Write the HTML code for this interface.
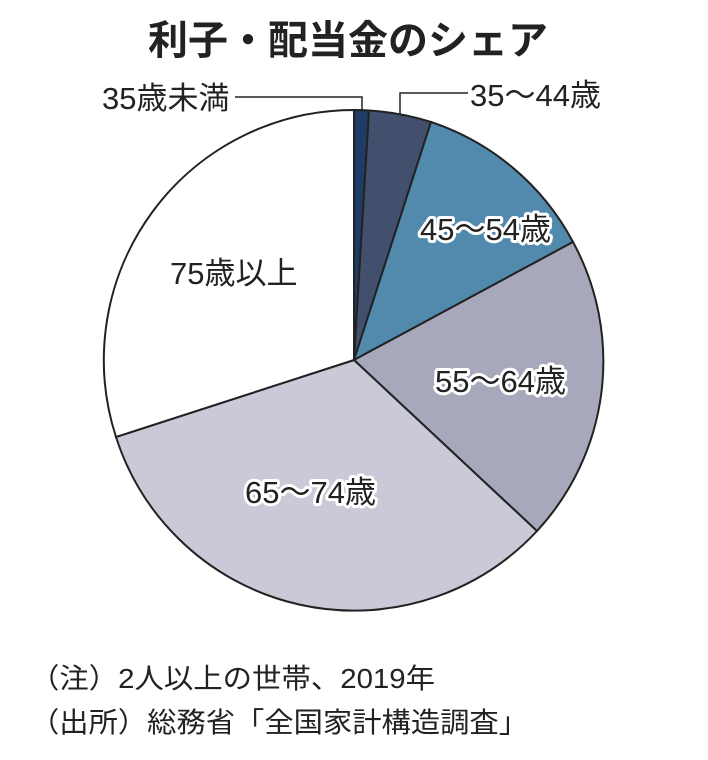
<!DOCTYPE html>
<html><head><meta charset="utf-8"><style>
body{margin:0;background:#fff;width:708px;height:755px;overflow:hidden}
svg text{font-family:"Liberation Sans","Noto Sans CJK JP",sans-serif}
</style></head><body>
<svg width="708" height="755" viewBox="0 0 708 755">
<g stroke="#222" stroke-width="2">
<path d="M354,360 L354,110 A250,250 0 0 1 369,110.5 Z" fill="#1f3c68"/>
<path d="M354,360 L369,110.5 A250,250 0 0 1 431,122 Z" fill="#42506e"/>
<path d="M354,360 L431,122 A250,250 0 0 1 573,242 Z" fill="#528aae"/>
<path d="M354,360 L573,242 A250,250 0 0 1 537,531 Z" fill="#a7a8bb"/>
<path d="M354,360 L537,531 A250,250 0 0 1 116,437 Z" fill="#c9c9d7"/>
<path d="M354,360 L116,437 A250,250 0 0 1 354,110 Z" fill="#ffffff"/>
</g>
<g stroke="#222" stroke-width="1.5" fill="none">
<polyline points="235,97 362,97 362,110"/>
<polyline points="468,93 400,93 400,115"/>
</g>
<text x="348" y="54" font-size="40" font-weight="bold" text-anchor="middle" fill="#222">利子・配当金のシェア</text>
<g font-size="31" fill="#222">
<text x="102" y="109">35歳未満</text>
<text x="470" y="106">35〜44歳</text>
<g stroke="#fff" stroke-width="6" stroke-linejoin="round" paint-order="stroke">
<text x="420" y="240">45〜54歳</text>
<text x="435" y="392">55〜64歳</text>
<text x="245" y="503">65〜74歳</text>
<text x="170" y="284">75歳以上</text>
</g>
<text x="30" y="688" font-size="28" textLength="405" lengthAdjust="spacingAndGlyphs">（注）2人以上の世帯、2019年</text>
<text x="30" y="732" font-size="28" textLength="498" lengthAdjust="spacingAndGlyphs">（出所）総務省「全国家計構造調査」</text>
</g>
</svg>
</body></html>
